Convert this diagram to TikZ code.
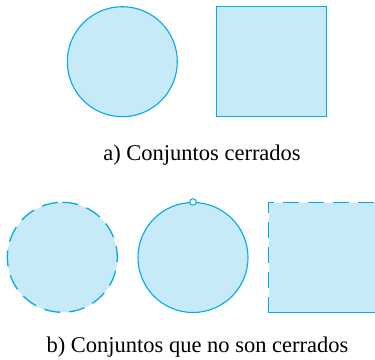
\documentclass[tikz,border=0pt]{standalone}
\usepackage{fontspec}
\setmainfont{Liberation Serif}
\newfontfamily\capfont{Liberation Serif}
\definecolor{edge}{RGB}{0,170,235}
\definecolor{area}{RGB}{199,234,249}
\tikzset{
  setfill/.style={fill=area,draw=edge,line width=1.1pt},
  dashedge/.style={draw=edge,line width=1.3pt,dash pattern=on 16pt off 9pt},
  caption/.style={font=\capfont\fontsize{22.5}{26}\selectfont,anchor=base,inner sep=0pt}
}
\begin{document}
\begin{tikzpicture}[x=1pt,y=-1pt]
\useasboundingbox (0,0) rectangle (375,359);
% a) closed sets
\node[setfill,circle,minimum size=110pt,inner sep=0pt] (c1) at (122.3,61.7) {};
\node[setfill,rectangle,minimum size=110pt,inner sep=0pt] (s1) at (271.7,61.5) {};
\node[caption] (ta) at (202,160) {a) Conjuntos cerrados};
% b) not closed
\node[circle,fill=area,minimum size=110pt,inner sep=0pt] (c2) at (62.3,257.5) {};
\draw[dashedge] (c2.north) arc[start angle=90,end angle=-270,radius=55pt];
\node[setfill,circle,minimum size=110pt,inner sep=0pt] (c3) at (193,257.5) {};
\node[circle,draw=edge,fill=white,line width=1pt,minimum size=6.5pt,inner sep=0pt] (hole) at (c3.north) {};
\node[rectangle,fill=area,minimum size=110pt,inner sep=0pt] (s2) at (323.7,257.5) {};
\draw[draw=edge,line width=1.1pt] (s2.south west) -- (s2.south east) -- (s2.north east);
\draw[dashedge,dash phase=0pt] (s2.south west) -- (s2.north west) -- (s2.north east);
\node[caption] (tb) at (197.5,352) {b) Conjuntos que no son cerrados};
\end{tikzpicture}
\end{document}
